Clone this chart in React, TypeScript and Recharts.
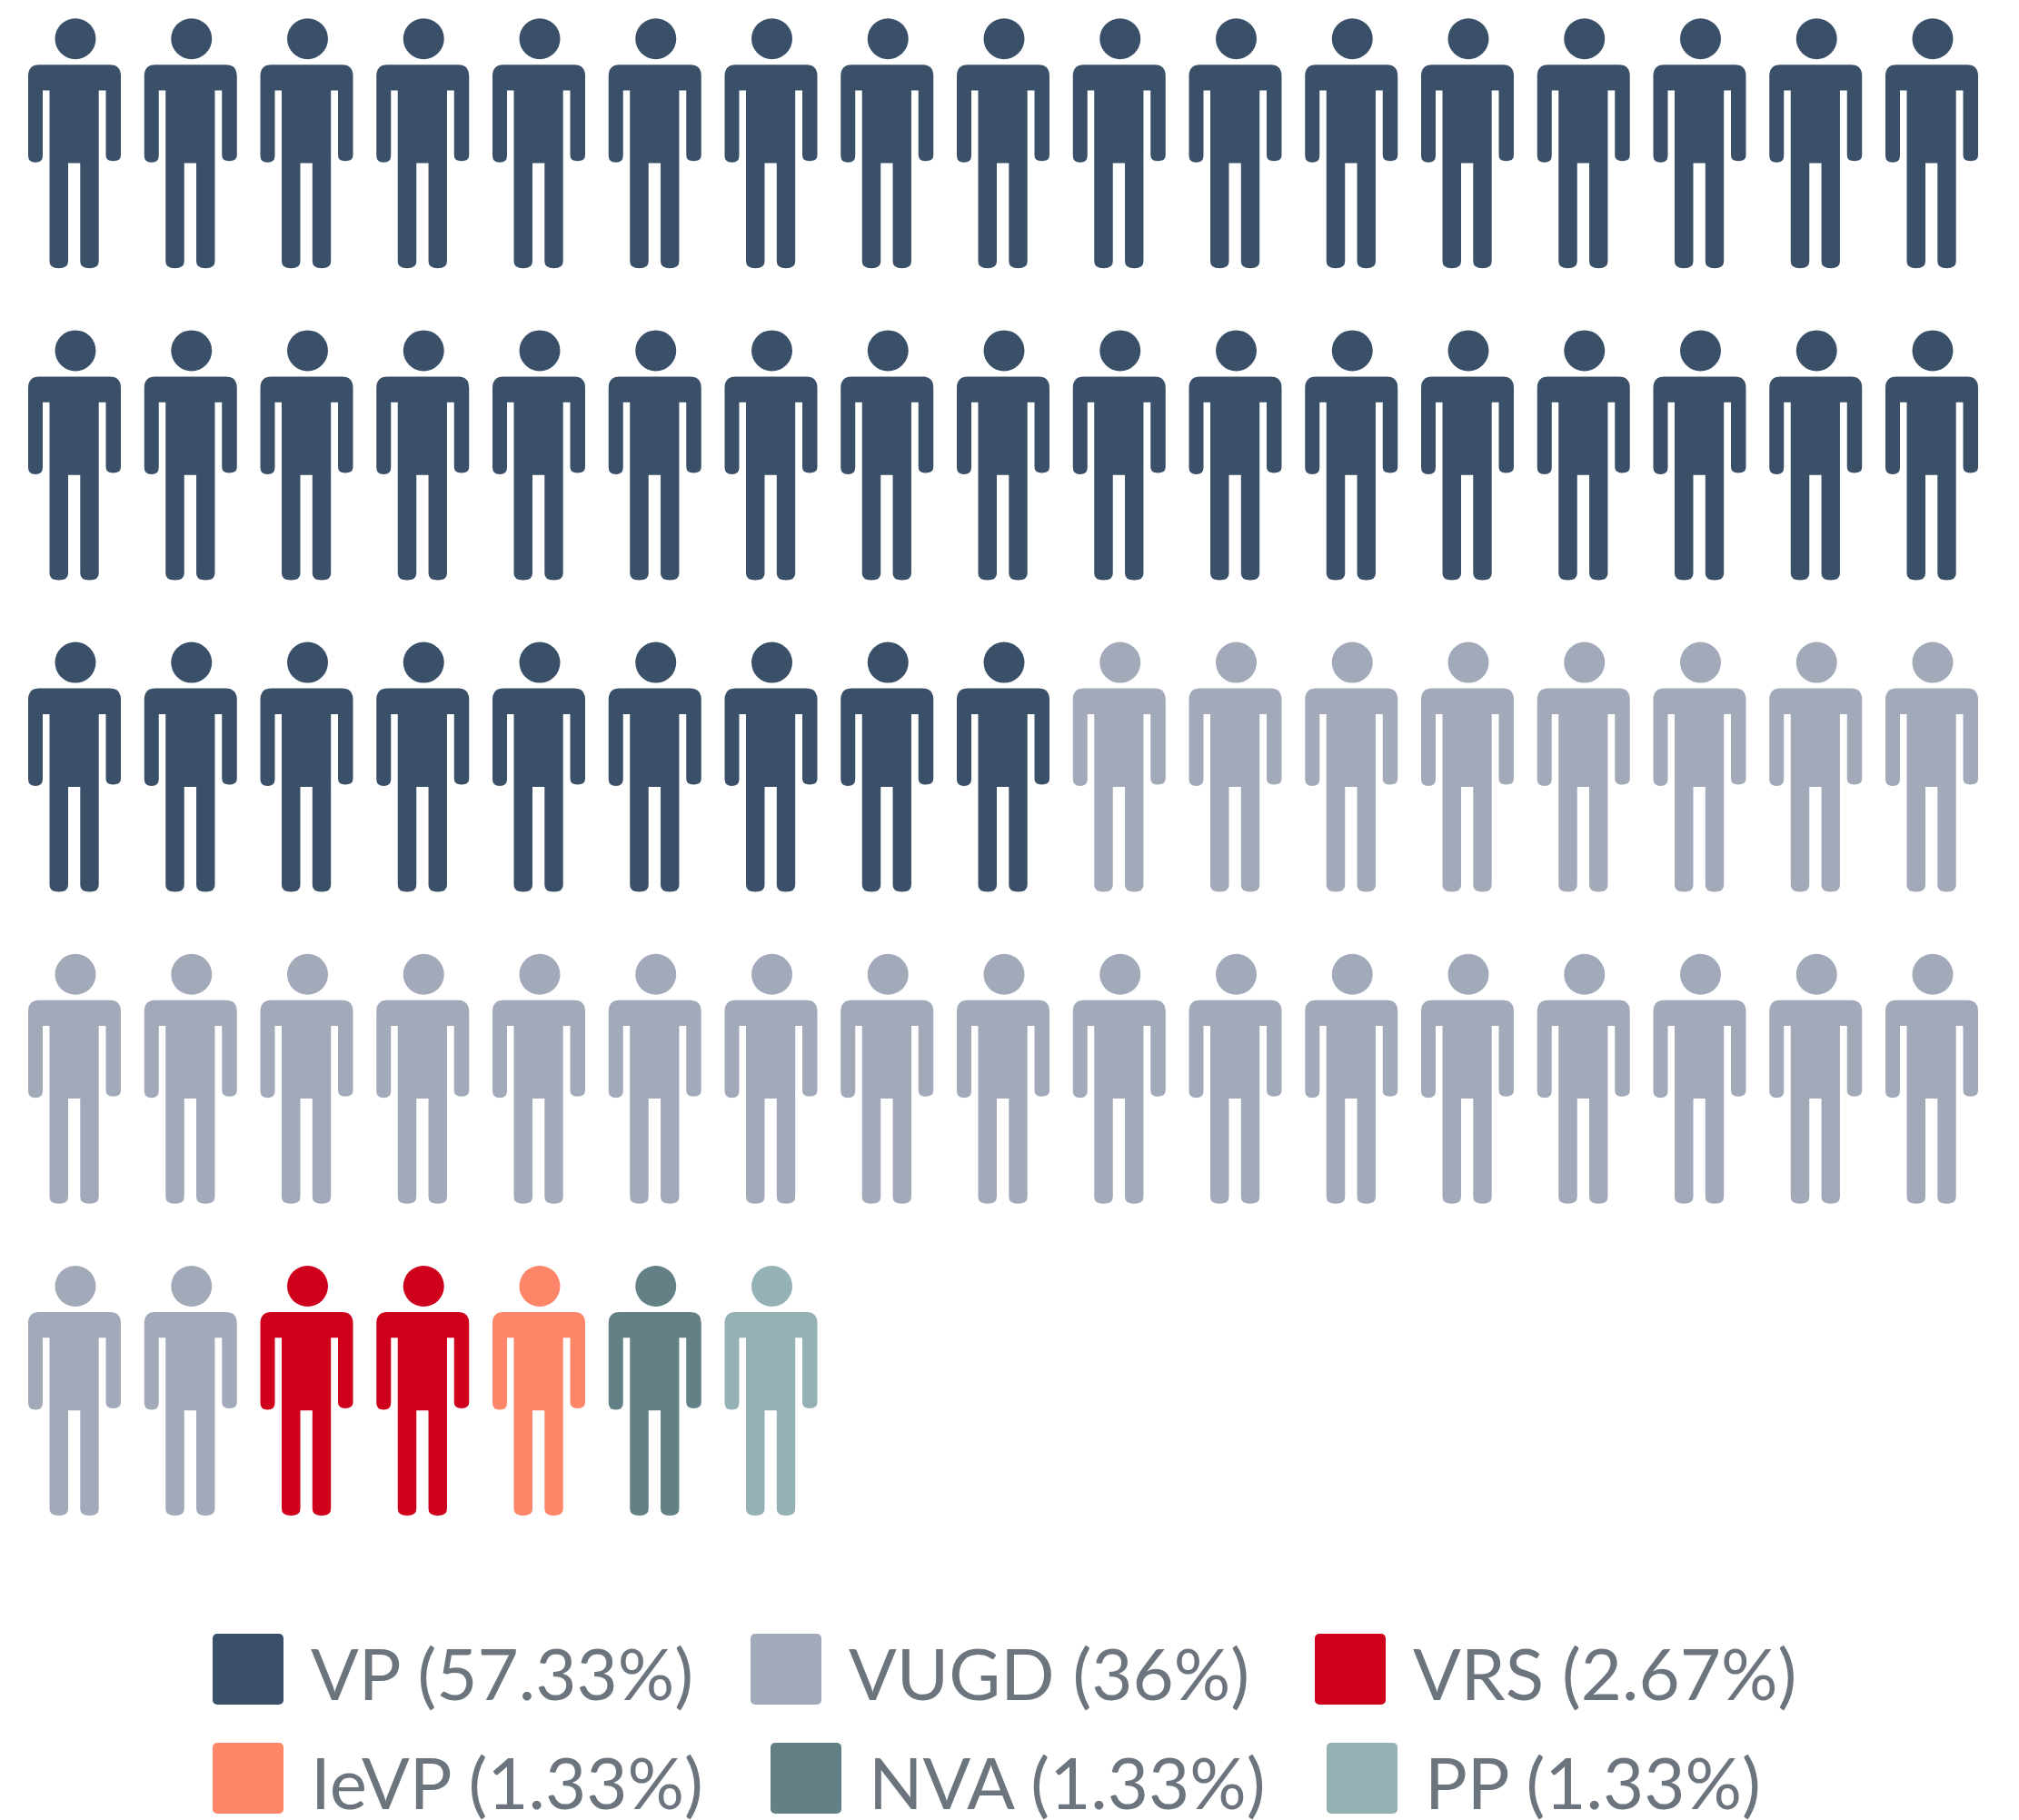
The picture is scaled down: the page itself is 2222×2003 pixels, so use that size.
import React from "react";
import { ScatterChart, Scatter, XAxis, YAxis, Legend } from "recharts";

const categories = ["VP", "VUGD", "VRS", "IeVP", "NVA", "PP"];
const counts = [43, 27, 2, 1, 1, 1];
const shares = ["57.33%", "36%", "2.67%", "1.33%", "1.33%", "1.33%"];
const colors = ["#3a5068", "#a2aab9", "#cf001c", "#fd8568", "#628086", "#94b1b6"];
const legendRows = [[0, 1, 2], [3, 4, 5]];
const legendLefts = [[234, 826, 1447], [234, 848, 1460]];
const perRow = 17;
const rowCount = 5;

type Pt = { col: number; row: number };
const seriesData: Pt[][] = [];
let cursor = 0;
for (const n of counts) {
  const pts: Pt[] = [];
  for (let i = 0; i < n; i++) {
    pts.push({ col: cursor % perRow, row: Math.floor(cursor / perRow) });
    cursor++;
  }
  seriesData.push(pts);
}

const bodyPath =
  "M -40 28.5 H 38 Q 50 28.5 50 41 V 128 Q 50 134.5 41.5 134.5 Q 33.5 134.5 33.5 128 V 56.8 H 25.7 V 245 " +
  "Q 25.7 252.5 15.5 252.5 Q 5.3 252.5 5.3 245 V 136.8 H -8 V 245 Q -8 252.5 -18.2 252.5 Q -28.5 252.5 -28.5 245 V 56.8 H -36 V 128.5 " +
  "Q -36 136 -44 136 Q -52 136 -52 128.5 V 41 Q -52 28.5 -40 28.5 Z";

const Person = (props: any) => {
  const { cx, cy, fill } = props;
  return (
    <g transform={`translate(${cx},${cy})`}>
      <circle cx={0} cy={0} r={22.5} fill={fill} />
      <path d={bodyPath} fill={fill} />
    </g>
  );
};

const LegendBox = () => (
  <div
    style={{
      position: "relative",
      fontFamily: "Lato",
      fontWeight: 400,
      fontSize: 78,
      lineHeight: "78px",
      color: "#6c757d",
      textAlign: "left",
    }}
  >
    {legendRows.map((row, r) =>
      row.map((i, k) => (
        <div
          key={i}
          style={{
            position: "absolute",
            left: legendLefts[r][k],
            top: r * 120,
            display: "flex",
            alignItems: "center",
            height: 78,
            whiteSpace: "nowrap",
          }}
        >
          <span style={{ width: 78, height: 78, background: colors[i], borderRadius: 5, marginRight: 30, flex: "none" }} />
          <span style={{ position: "relative", top: 4 }}>{`${categories[i]} (${shares[i]})`}</span>
        </div>
      ))
    )}
  </div>
);

export default function App() {
  return (
    <div style={{ position: "absolute", left: 0, top: 0 }}>
      <ScatterChart
        width={2222}
        height={2003}
        margin={{ top: 42.7, left: 83, right: 95, bottom: 587.5 }}
      >
        <XAxis type="number" dataKey="col" domain={[0, perRow - 1]} hide />
        <YAxis type="number" dataKey="row" domain={[0, rowCount - 1]} reversed hide />
        {categories.map((c, i) => (
          <Scatter
            key={c}
            name={c}
            data={seriesData[i]}
            fill={colors[i]}
            isAnimationActive={false}
            shape={<Person />}
          />
        ))}
        <Legend
          verticalAlign="middle"
          align="center"
          content={<LegendBox />}
          wrapperStyle={{ position: "absolute", left: 0, top: 1798, width: 2222, margin: 0 }}
        />
      </ScatterChart>
    </div>
  );
}
